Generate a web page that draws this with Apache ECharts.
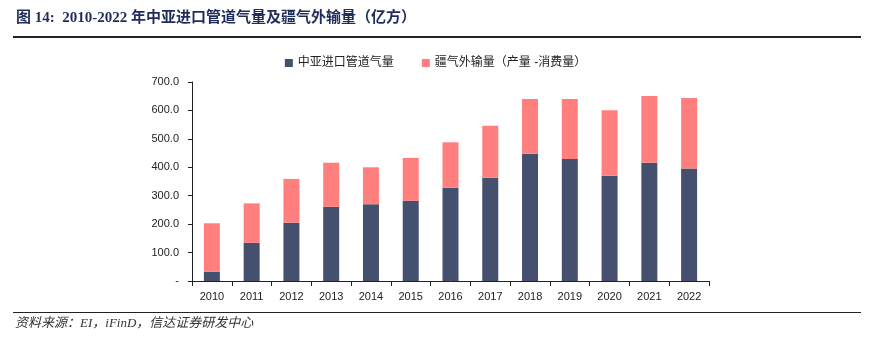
<!DOCTYPE html>
<html>
<head>
<meta charset="utf-8">
<script src="https://cdn.jsdelivr.net/npm/echarts@6/dist/echarts.min.js"></script>
<style>
  html, body { margin: 0; padding: 0; background: #fff; }
  #main { width: 871px; height: 353px; }
</style>
</head>
<body>
<div id="main"></div>
<script>
const years = ['2010', '2011', '2012', '2013', '2014', '2015', '2016', '2017', '2018', '2019', '2020', '2021', '2022']
// 中亚进口管道气量
const pipeGas = [33, 134, 205, 261, 270, 282, 328, 363, 448, 429, 370, 416, 396]
// 疆气外输量（产量-消费量）
const xjOutflow = [170, 139, 154, 155, 130, 151, 160, 183, 192, 211, 231, 235, 248]

const chart = echarts.init(document.getElementById('main'))
const option = {
  animation: false,
  textStyle: { fontFamily: 'Liberation Sans, Noto Sans CJK SC' },
  graphic: [
    {
      type: 'text', left: 16, top: 11,
      style: {
        text: '图 14:  2010-2022 年中亚进口管道气量及疆气外输量（亿方）',
        font: 'bold 15px "Liberation Serif", "Noto Sans CJK SC"',
        fill: '#1f2d5a'
      }
    },
    { type: 'rect', shape: { x: 13, y: 36, width: 848, height: 2 }, style: { fill: '#222' } },
    { type: 'rect', shape: { x: 13, y: 312, width: 848, height: 1 }, style: { fill: '#222' } },
    {
      type: 'text', left: 15, top: 317,
      style: {
        text: '资料来源：EI，iFinD，信达证券研发中心',
        font: 'italic 13px "Liberation Serif", "Noto Sans CJK SC"',
        fill: '#333'
      }
    }
  ],
  legend: {
    top: 52,
    left: 'center',
    itemWidth: 8,
    itemHeight: 8,
    itemGap: 28,
    icon: 'rect',
    textStyle: { fontSize: 12, color: '#222' },
    data: ['中亚进口管道气量', '疆气外输量（产量 -消费量）']
  },
  grid: { left: 192, right: 162, top: 82, bottom: 72 },
  xAxis: {
    type: 'category',
    data: years,
    axisLine: { lineStyle: { color: '#222' } },
    axisTick: { show: true, lineStyle: { color: '#222' } },
    axisLabel: { color: '#222', fontSize: 11, margin: 10 }
  },
  yAxis: {
    type: 'value',
    min: 0,
    max: 700,
    interval: 100,
    axisLine: { show: true, lineStyle: { color: '#222' } },
    axisTick: { show: true, length: 4, lineStyle: { color: '#222' } },
    splitLine: { show: false },
    axisLabel: {
      color: '#222',
      fontSize: 11,
      margin: 13,
      formatter: v => (v === 0 ? '-' : v.toFixed(1))
    }
  },
  series: [
    {
      name: '中亚进口管道气量',
      type: 'bar',
      stack: 'total',
      barWidth: 16,
      itemStyle: { color: '#44506e' },
      data: pipeGas
    },
    {
      name: '疆气外输量（产量 -消费量）',
      type: 'bar',
      stack: 'total',
      barWidth: 16,
      itemStyle: { color: '#ff7f7f' },
      data: xjOutflow
    }
  ]
}
option && chart.setOption(option)
</script>
</body>
</html>
